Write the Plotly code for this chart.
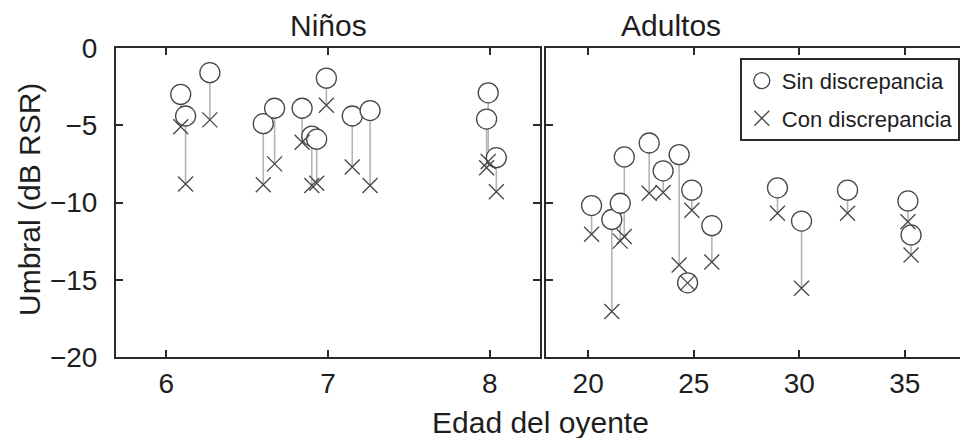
import plotly.graph_objects as go

# ---- data ----
child_age = [6.09, 6.12, 6.27, 6.60, 6.67, 6.84, 6.90, 6.93, 6.99, 7.15, 7.26, 7.98, 7.99, 8.04]
child_sin = [-3.0, -4.4, -1.6, -4.9, -3.9, -3.9, -5.7, -5.9, -1.95, -4.4, -4.05, -4.6, -2.9, -7.1]
child_con = [-5.1, -8.8, -4.65, -8.85, -7.5, -6.1, -8.9, -8.75, -3.7, -7.7, -8.9, -7.75, -7.35, -9.3]

adult_age = [20.16, 21.12, 21.52, 21.71, 22.89, 23.55, 24.31, 24.71, 24.91, 25.86,
             28.97, 30.11, 32.29, 35.15, 35.3]
adult_sin = [-10.2, -11.1, -10.05, -7.05, -6.15, -7.95, -6.9, -15.2, -9.2, -11.5,
             -9.05, -11.2, -9.2, -9.9, -12.1]
adult_con = [-12.05, -17.05, -12.5, -12.2, -9.4, -9.35, -14.05, -15.2, -10.5, -13.85,
             -10.7, -15.55, -10.7, -11.25, -13.4]

x_ticks_child = [6, 7, 8]
x_ticks_adult = [20, 25, 30, 35]
y_ticks = [0, -5, -10, -15, -20]

panel_titles = ["Niños", "Adultos"]
legend_names = ["Sin discrepancia", "Con discrepancia"]

W, H = 960, 438
FONT = "Liberation Sans, Arial, sans-serif"
MK = "#474747"
LN = "#b4b4b4"
AX = "#2a2a2a"
TXT = "#1e1e1e"


def stems(ages, a, b):
    xs, ys = [], []
    for x, y1, y2 in zip(ages, a, b):
        xs += [x, x, None]
        ys += [y1, y2, None]
    return xs, ys


fig = go.Figure()

for i, (ages, sin, con, xa, ya) in enumerate([
    (child_age, child_sin, child_con, "x", "y"),
    (adult_age, adult_sin, adult_con, "x2", "y2"),
]):
    sx, sy = stems(ages, sin, con)
    fig.add_trace(go.Scatter(x=sx, y=sy, mode="lines", xaxis=xa, yaxis=ya,
                             line=dict(color=LN, width=1.6), showlegend=False,
                             hoverinfo="skip"))
    fig.add_trace(go.Scatter(x=ages, y=sin, mode="markers", xaxis=xa, yaxis=ya,
                             name=legend_names[0], legendgroup="a",
                             showlegend=(i == 0),
                             marker=dict(symbol="circle", size=20, color="white",
                                         line=dict(color=MK, width=1.3))))
    fig.add_trace(go.Scatter(x=ages, y=con, mode="markers", xaxis=xa, yaxis=ya,
                             name=legend_names[1], legendgroup="b",
                             showlegend=(i == 0),
                             marker=dict(symbol="x-thin-open", size=15, color=MK,
                                         line=dict(color=MK, width=1.3))))

top = 48
bot = 357
ydom = [1 - bot / H, 1 - top / H]

axis_common = dict(showgrid=False, zeroline=False, showline=True, linecolor=AX,
                   linewidth=2, ticks="inside", ticklen=7, tickcolor=AX,
                   tickwidth=1.5, automargin=False,
                   tickfont=dict(size=28, color=TXT, family=FONT))


def ann(text, x, y, size, angle=0):
    return dict(text=text, x=x / W, y=1 - y / H, xref="paper", yref="paper",
                xanchor="center", yanchor="middle", textangle=angle,
                showarrow=False, font=dict(size=size, family=FONT, color=TXT))


fig.update_layout(
    width=W, height=H,
    margin=dict(l=0, r=0, t=0, b=0, pad=0, autoexpand=False),
    paper_bgcolor="white", plot_bgcolor="white",
    font=dict(family=FONT, color=TXT),
    xaxis=dict(domain=[116 / W, 540 / W], range=[5.69, 8.31], tickvals=x_ticks_child,
               anchor="y", mirror="ticks", ticklabelstandoff=0, **axis_common),
    yaxis=dict(domain=ydom, range=[-20, 0], tickvals=y_ticks, anchor="x",
               mirror="ticks", ticklabelstandoff=11, **axis_common),
    xaxis2=dict(domain=[546 / W, 1.0], range=[18, 37.62], tickvals=x_ticks_adult,
                anchor="y2", mirror="ticks", ticklabelstandoff=0, **axis_common),
    yaxis2=dict(domain=ydom, range=[-20, 0], tickvals=y_ticks, anchor="x2",
                showticklabels=False, mirror=False, **axis_common),
    legend=dict(x=740 / W, y=1 - 58 / H, xanchor="left", yanchor="top",
                bgcolor="white", bordercolor=AX, borderwidth=1.8,
                font=dict(size=22, family=FONT, color=TXT),
                tracegroupgap=6, itemwidth=30),
    annotations=[
        ann(panel_titles[0], 328, 26, 30),
        ann(panel_titles[1], 671, 26, 30),
        ann("Umbral (dB RSR)", 29, 200, 30, -90),
        ann("Edad del oyente", 540, 422, 30),
    ],
)

fig.write_html("out.html", config={"displayModeBar": False},
               post_script="document.body.style.margin='0';")
